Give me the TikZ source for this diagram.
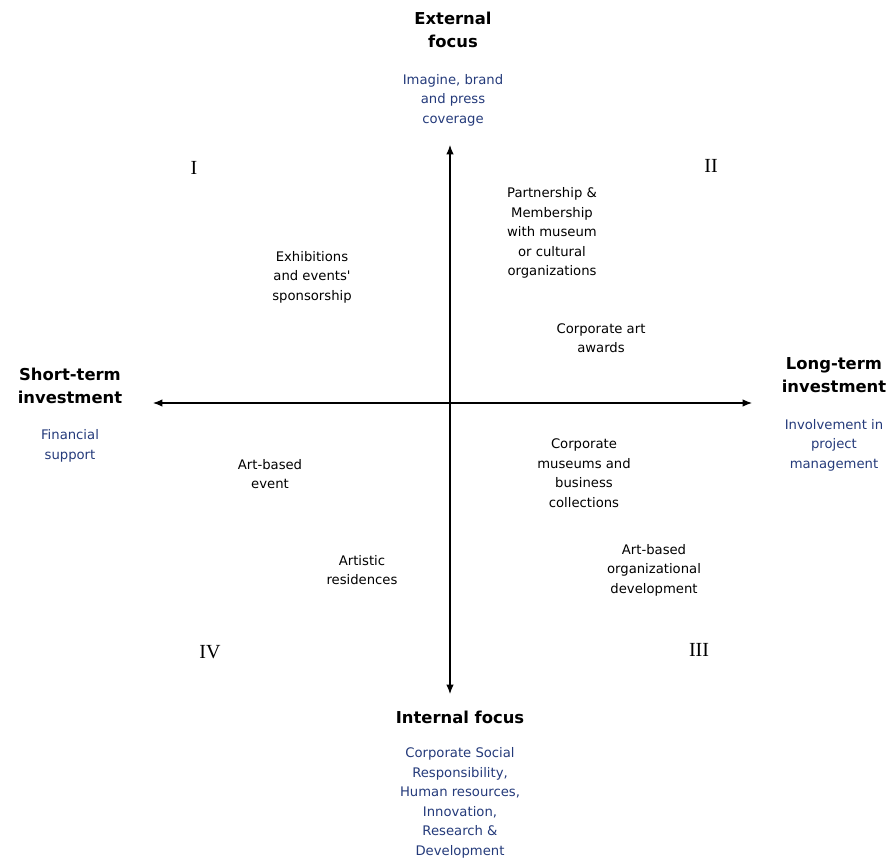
\documentclass[tikz,border=0pt]{standalone}
\usepackage{fontspec}
\usetikzlibrary{arrows.meta}
\setmainfont{Liberation Serif}
\newfontfamily\tahoma{DejaVu Sans}
\definecolor{navy}{RGB}{36,58,122}

\begin{document}
\begin{tikzpicture}[x=0.75pt,y=-0.75pt,
	head/.style={font=\tahoma\bfseries\fontsize{12.3}{17.2}\selectfont, align=center, inner sep=0pt},
	note/.style={font=\tahoma\fontsize{9.9}{14.6}\selectfont, text=navy, align=center, inner sep=0pt},
	item/.style={font=\tahoma\fontsize{9.9}{14.6}\selectfont, align=center, inner sep=0pt},
	quad/.style={font=\fontsize{15}{18}\selectfont, inner sep=0pt},
	axis/.style={{Latex[length=7pt,width=5.5pt]}-{Latex[length=7pt,width=5.5pt]}, thick}]

	\useasboundingbox (0,0) rectangle (889,860);

	% axes
	\coordinate (top) at (450,145);
	\coordinate (bottom) at (450,694);
	\coordinate (left) at (153,403);
	\coordinate (right) at (752,403);
	\draw[axis] (top) -- (bottom);
	\draw[axis] (left) -- (right);

	% axis titles
	\node[head] (ext) at (453,30) {External\\focus};
	\node[note] (extnote) at (453,100) {Imagine, brand\\and press\\coverage};
	\node[head] (short) at (70,386) {Short-term\\investment};
	\node[note] (shortnote) at (70,446) {Financial\\support};
	\node[head] (long) at (834,375) {Long-term\\investment};
	\node[note] (longnote) at (834,445) {Involvement in\\project\\management};
	\node[head] (int) at (460,717) {Internal focus};
	\node[note] (intnote) at (460,803) {Corporate Social\\Responsibility,\\Human resources,\\Innovation,\\Research \&\\Development};

	% quadrants
	\node[quad] (q1) at (194,168) {I};
	\node[quad] (q2) at (711,166) {II};
	\node[quad] (q3) at (699,650) {III};
	\node[quad] (q4) at (210,652) {IV};

	% practices
	\node[item] (partner) at (552,233) {Partnership \&\\Membership\\with museum\\or cultural\\organizations};
	\node[item] (awards) at (601,338) {Corporate art\\awards};
	\node[item] (sponsor) at (312,277) {Exhibitions\\and events'\\sponsorship};
	\node[item] (event) at (270,474) {Art-based\\event};
	\node[item] (museums) at (584,473) {Corporate\\museums and\\business\\collections};
	\node[item] (orgdev) at (654,570) {Art-based\\organizational\\development};
	\node[item] (resid) at (362,570) {Artistic\\residences};
\end{tikzpicture}
\end{document}
